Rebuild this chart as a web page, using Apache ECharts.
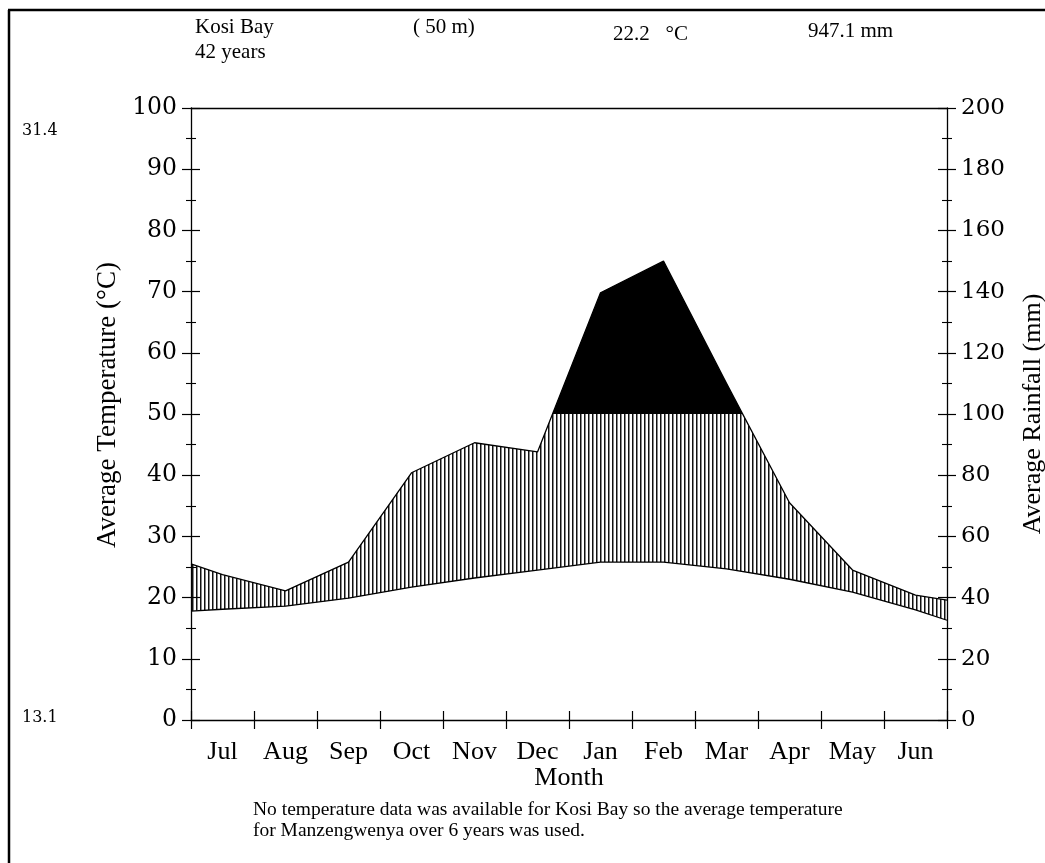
<!DOCTYPE html>
<html><head><meta charset="utf-8">
<script src="https://cdn.jsdelivr.net/npm/echarts@6/dist/echarts.min.js"></script>
<style>html,body{margin:0;padding:0;background:#fff;overflow:hidden}#c{width:1045px;height:863px}</style>
</head><body><div id="c"></div>
<script>
// ---- data ----
const months = ['Jul','Aug','Sep','Oct','Nov','Dec','Jan','Feb','Mar','Apr','May','Jun'];
const rainMm = [47.5, 42.2, 51.6, 80.8, 90.6, 87.6, 139.6, 150.0, 110.0, 71.0, 49.0, 40.8];
const rainEdgeMm = [51.0, 39.2];      // rainfall curve at left / right plot edges
const tempC = [18.1, 18.6, 19.9, 21.7, 23.2, 24.5, 25.8, 25.8, 24.7, 23.0, 20.9, 18.0];
const tempEdgeC = [17.8, 16.3];       // temperature curve at left / right plot edges
const tempAxis = {min: 0, max: 100, step: 10};
const rainAxis = {min: 0, max: 200, step: 20};
const rainThreshold = 100;
const header = {station: 'Kosi Bay', years: '42 years', alt: '( 50 m)', meanT: '22.2', meanTUnit: '°C', total: '947.1 mm'};
const sideLabels = {maxT: '31.4', minT: '13.1'};
const footer = ['No temperature data was available for Kosi Bay so the average temperature',
                'for Manzengwenya over 6 years was used.'];

function toPoints(edges, vals) {
  return [[0, edges[0]]].concat(vals.map((v, i) => [i + 0.5, v]), [[months.length, edges[1]]]);
}

const FONT = '"Liberation Serif", "Times New Roman", serif';
const NUMFONT = '"DejaVu Serif", serif';
const pc = document.createElement('canvas');
pc.width = 4; pc.height = 4;
const g = pc.getContext('2d');
g.fillStyle = '#111';
g.fillRect(0, 0, 1.5, 4);

const chart = echarts.init(document.getElementById('c'), null, {renderer: 'canvas', width: 1045, height: 863});
const axLine = {show: true, onZero: false, lineStyle: {color: '#000', width: 1.3}};
const tickOut = {show: true, inside: false, length: 9, lineStyle: {color: '#000', width: 1.2}};
const tickIn = {show: true, inside: true, length: 9, lineStyle: {color: '#000', width: 1.2}};
const minorOut = {show: true, splitNumber: 2, length: 5, lineStyle: {color: '#000', width: 1.1}};

const option = {
  backgroundColor: '#fff',
  animation: false,
  grid: [
    {left: 191, right: 98, top: 108, bottom: 143, outerBoundsMode: 'none', containLabel: false},
    {left: 191, right: 98, top: 108, height: 306, outerBoundsMode: 'none', containLabel: false}
  ],
  xAxis: [
    {type: 'category', gridIndex: 0, data: months, boundaryGap: true, position: 'bottom', z: 10,
     axisLine: axLine, axisTick: tickOut, splitLine: {show: false},
     axisLabel: {color: '#000', fontFamily: FONT, fontSize: 26, margin: 19},
     name: 'Month', nameLocation: 'middle', nameGap: 45, nameMoveOverlap: false,
     nameTextStyle: {color: '#000', fontFamily: FONT, fontSize: 26}},
    {type: 'value', gridIndex: 0, min: 0, max: months.length, interval: 1, position: 'bottom', z: 10,
     axisLine: {show: false, onZero: false}, axisTick: tickIn, axisLabel: {show: false}, splitLine: {show: false}},
    {type: 'value', gridIndex: 0, min: 0, max: months.length, position: 'top', z: 10,
     axisLine: axLine, axisTick: {show: false}, axisLabel: {show: false}, splitLine: {show: false}},
    {type: 'value', gridIndex: 1, min: 0, max: months.length, show: false, axisLine: {onZero: false}}
  ],
  yAxis: [
    {type: 'value', gridIndex: 0, position: 'left', min: tempAxis.min, max: tempAxis.max, interval: tempAxis.step, z: 10,
     axisLine: axLine, axisTick: tickOut, minorTick: minorOut, splitLine: {show: false},
     axisLabel: {color: '#000', fontFamily: NUMFONT, fontSize: 23.5, margin: 14},
     name: 'Average Temperature (°C)', nameLocation: 'middle', nameGap: 70, nameRotate: 90, nameMoveOverlap: false,
     nameTextStyle: {color: '#000', fontFamily: FONT, fontSize: 27, padding: [0, 0, 0, 18]}},
    {type: 'value', gridIndex: 0, position: 'left', min: tempAxis.min, max: tempAxis.max, interval: tempAxis.step, z: 10,
     axisLine: {show: false, onZero: false}, axisTick: tickIn, minorTick: Object.assign({}, minorOut), axisLabel: {show: false}, splitLine: {show: false}},
    {type: 'value', gridIndex: 0, position: 'right', min: rainAxis.min, max: rainAxis.max, interval: rainAxis.step, z: 10,
     axisLine: axLine, axisTick: tickOut, minorTick: minorOut, splitLine: {show: false},
     axisLabel: {color: '#000', fontFamily: NUMFONT, fontSize: 23, margin: 14},
     name: 'Average Rainfall (mm)', nameLocation: 'middle', nameGap: 73, nameRotate: 90, nameMoveOverlap: false,
     nameTextStyle: {color: '#000', fontFamily: FONT, fontSize: 26}},
    {type: 'value', gridIndex: 0, position: 'right', min: rainAxis.min, max: rainAxis.max, interval: rainAxis.step, z: 10,
     axisLine: {show: false, onZero: false}, axisTick: tickIn, minorTick: Object.assign({}, minorOut), axisLabel: {show: false}, splitLine: {show: false}},
    {type: 'value', gridIndex: 1, min: rainThreshold, max: rainAxis.max, show: false, axisLine: {onZero: false}}
  ],
  series: [
    {type: 'line', name: 'rain', xAxisIndex: 1, yAxisIndex: 2, data: toPoints(rainEdgeMm, rainMm),
     symbol: 'none', z: 2, lineStyle: {color: '#000', width: 1.3},
     areaStyle: {origin: 'start', opacity: 1, color: {image: pc, repeat: 'repeat'}}},
    {type: 'line', name: 'rainExcess', xAxisIndex: 3, yAxisIndex: 4, data: toPoints(rainEdgeMm, rainMm),
     symbol: 'none', z: 3, clip: true, lineStyle: {color: '#000', width: 0, opacity: 0},
     areaStyle: {origin: 'start', opacity: 1, color: '#000'}},
    {type: 'line', name: 'temp', xAxisIndex: 1, yAxisIndex: 0, data: toPoints(tempEdgeC, tempC),
     symbol: 'none', z: 4, lineStyle: {color: '#000', width: 1.3},
     areaStyle: {origin: 'start', opacity: 1, color: '#fff'}}
  ],
  graphic: [
    {type: 'line', shape: {x1: 8, y1: 10, x2: 1045, y2: 10}, style: {stroke: '#000', lineWidth: 2.5}},
    {type: 'line', shape: {x1: 9, y1: 10, x2: 9, y2: 863}, style: {stroke: '#000', lineWidth: 2.5}},
    {type: 'text', left: 195, top: 17, style: {text: header.station, font: '21px ' + FONT, fill: '#000'}},
    {type: 'text', left: 195, top: 42, style: {text: header.years, font: '21px ' + FONT, fill: '#000'}},
    {type: 'text', left: 413, top: 17, style: {text: header.alt, font: '21px ' + FONT, fill: '#000'}},
    {type: 'text', left: 613, top: 24, style: {text: header.meanT + '   ' + header.meanTUnit, font: '21px ' + FONT, fill: '#000'}},
    {type: 'text', left: 808, top: 21, style: {text: header.total, font: '21px ' + FONT, fill: '#000'}},
    {type: 'text', left: 22, top: 123, style: {text: sideLabels.maxT, font: '16px ' + NUMFONT, fill: '#000'}},
    {type: 'text', left: 22, top: 710, style: {text: sideLabels.minT, font: '16px ' + NUMFONT, fill: '#000'}},
    {type: 'text', left: 253, top: 800, style: {text: footer[0], font: '19.5px ' + FONT, fill: '#000'}},
    {type: 'text', left: 253, top: 821, style: {text: footer[1], font: '19.5px ' + FONT, fill: '#000'}}
  ]
};
chart.setOption(option);
</script>
</body></html>
